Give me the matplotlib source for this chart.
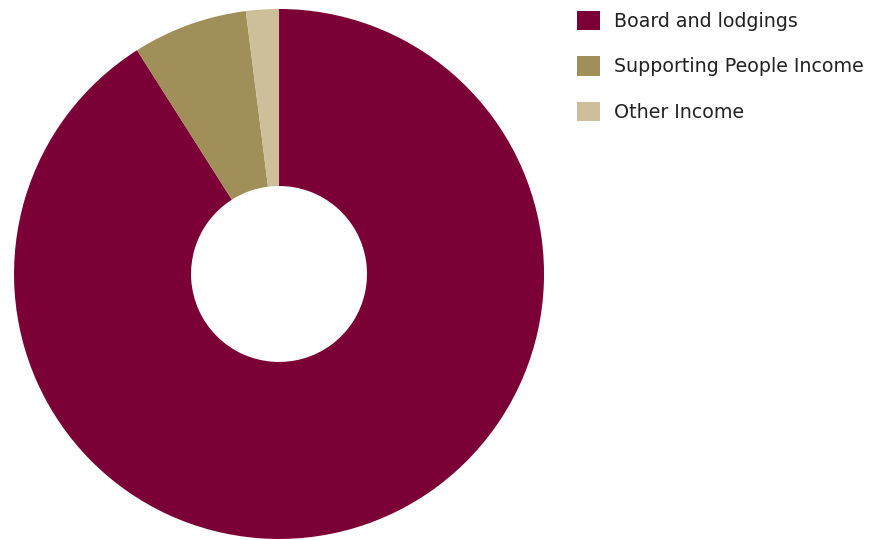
import matplotlib.pyplot as plt
from matplotlib.patches import Patch

labels = ["Board and lodgings", "Supporting People Income", "Other Income"]
values = [91, 7, 2]
colors = ["#7a0036", "#a08f58", "#cdbf99"]

fig = plt.figure(figsize=(8.71, 5.40), dpi=100)
ax = fig.add_axes([0.0161, 0.0019, 0.6085, 0.9815])
ax.pie(values, colors=colors, startangle=90, counterclock=False,
       radius=1, wedgeprops=dict(width=0.668, linewidth=0))
ax.set_xlim(-1, 1)
ax.set_ylim(-1, 1)
ax.set_aspect("equal")
ax.axis("off")

handles = [Patch(facecolor=c, edgecolor="none") for c in colors]
fig.legend(handles, labels, loc="upper left", bbox_to_anchor=(0.643, 1.012),
           frameon=False, handlelength=1.2, handleheight=1.2,
           handletextpad=0.74, labelspacing=1.33, labelcolor="#222222",
           prop={"family": "DejaVu Sans", "size": 13.7})

fig.savefig("out.png", dpi=100)
